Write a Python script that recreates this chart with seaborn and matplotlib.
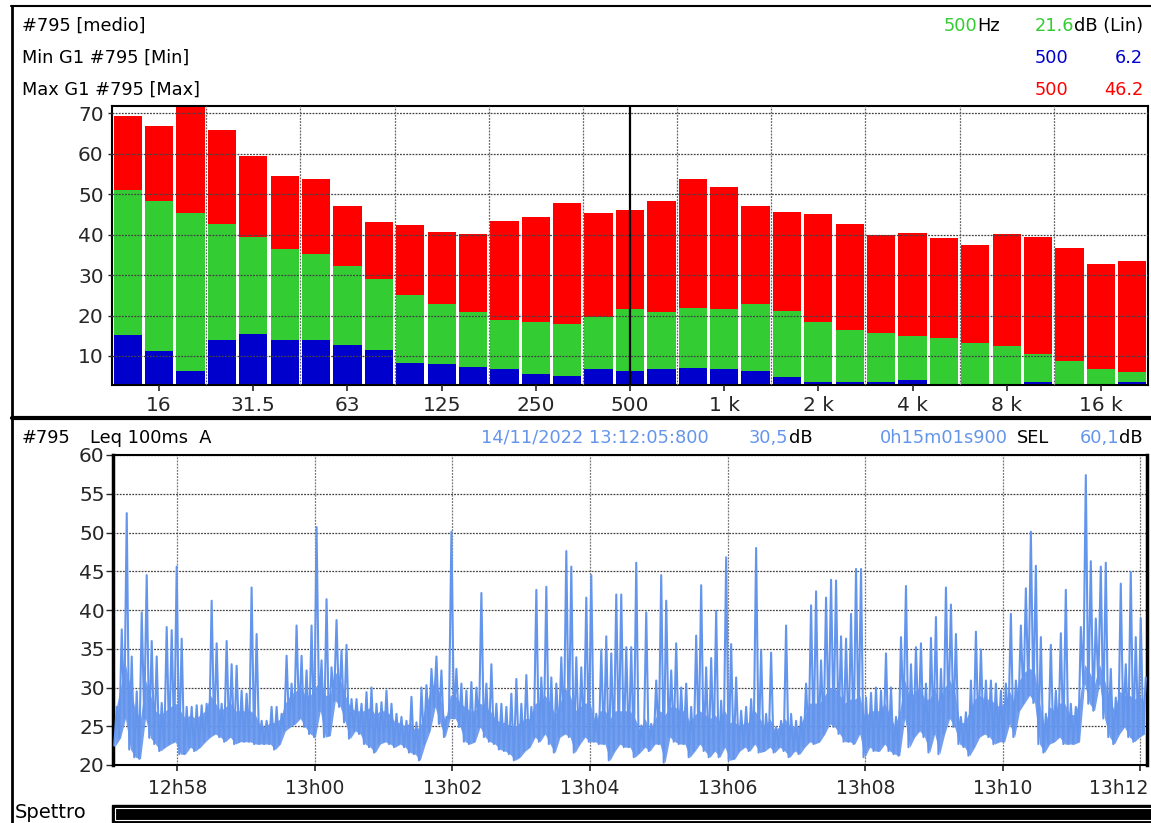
import numpy as np
import pandas as pd
import matplotlib
matplotlib.use("Agg")
import matplotlib.pyplot as plt
import matplotlib.transforms as mtransforms
import seaborn as sns
from matplotlib.patches import Rectangle
from matplotlib.lines import Line2D
from matplotlib.ticker import FuncFormatter, FixedLocator

# ---------------- data ----------------
bands = ["12.5", "16", "20", "25", "31.5", "40", "50", "63", "80", "100",
         "125", "160", "200", "250", "315", "400", "500", "630", "800", "1 k",
         "1.25 k", "1.6 k", "2 k", "2.5 k", "3.15 k", "4 k", "5 k", "6.3 k", "8 k", "10 k",
         "12.5 k", "16 k", "20 k"]
band_labels = ["16", "31.5", "63", "125", "250", "500", "1 k", "2 k", "4 k", "8 k", "16 k"]
max_db = [69.3, 66.9, 72.5, 65.9, 59.4, 54.5, 53.8, 47.1, 43.1, 42.4,
          40.7, 40.2, 43.4, 44.4, 47.8, 45.4, 46.2, 48.3, 53.8, 51.8,
          47.1, 45.6, 45.1, 42.6, 39.9, 40.4, 39.2, 37.4, 40.2, 39.4,
          36.7, 32.7, 33.5]
medio_db = [51.0, 48.3, 45.4, 42.6, 39.4, 36.4, 35.2, 32.2, 29.0, 25.1,
            22.8, 20.9, 18.9, 18.4, 17.9, 19.6, 21.6, 20.9, 21.9, 21.6,
            22.8, 21.1, 18.4, 16.4, 15.7, 14.9, 14.4, 13.2, 12.4, 10.5,
            8.7, 6.8, 6.0]
min_db = [15.2, 11.2, 6.3, 14.0, 15.4, 14.0, 14.0, 12.7, 11.5, 8.3,
          8.0, 7.3, 6.8, 5.5, 5.0, 6.8, 6.2, 6.8, 7.0, 6.8,
          6.3, 4.8, 3.6, 3.6, 3.6, 4.0, 2.8, 3.1, 3.1, 3.6,
          3.1, 2.8, 3.6]

# Leq 100ms A, read per short interval: low edge, top of dense band, peak
leq_low = [22.5, 23.5, 26, 22, 21, 20.8, 26, 23.5, 22.7, 21.8,
           22.3, 22.7, 23, 21.4, 21.4, 22.3, 21.8, 22.3, 23, 23.6,
           24, 23.6, 23, 23.6, 22.7, 23, 23, 23, 22.7, 22.7,
           22.7, 22.7, 22, 22.7, 24.4, 24.9, 25.3, 26, 24.9, 24,
           23.6, 27, 23.6, 23.8, 28.3, 27.5, 25.5, 23.4, 24.4, 24,
           22.7,
           22.3, 21.6, 22.7, 23, 22.7, 22.3, 22.7, 22.3, 21.6, 21.4,
           20.6, 22.7, 24.4, 27.5, 25.3, 23.6, 26, 26, 24.9, 23,
           22.7, 23, 24.9, 23.6, 23, 22.7, 22, 21.8, 21.4, 20.6,
           21, 21.8, 22.3, 23.6, 23, 24, 22.7, 21.6, 23.6, 24,
           23.6, 21.6, 22.7, 23.6, 23, 23, 22.7, 22.7, 20.6, 21.8,
           22.7,
           22.3, 22.3, 21, 21.6, 22.3, 21.8, 22.7, 22.7, 20.3, 23.6,
           23, 22.7, 22.7, 21, 21.8, 22.7, 21.8, 21, 21.8, 21,
           22.3, 20.6, 20.8, 21.8, 22.3, 21.8, 22.7, 21.6, 21.8, 22.3,
           21.6, 22.3, 21.8, 21, 21.8, 21.4, 22.3, 23, 22.7, 23,
           24, 25.3, 24.9, 24, 23, 23, 22.7, 24, 21, 22.3,
           21.8,
           21.8, 22.7, 21.8, 21.4, 21.2, 26, 22.3, 23.6, 24.4, 23.6,
           21.6, 24, 21.4, 24, 26, 24.9, 22.7, 22.3, 21.2, 22.3,
           23.6, 24, 23.6, 22.7, 23, 23, 25.3, 23.6, 27, 28,
           29, 28, 22.7, 21.6, 22.7, 23, 23.6, 22.7, 22.7, 22.7,
           23, 30.5, 27.9, 27, 30.5, 26, 23.6, 22.7, 24, 24.9,
           23.6, 23, 23.6, 24]
leq_band = [27, 30, 33, 30, 27, 26, 31, 29, 27, 26.5,
            27, 27.5, 28, 27, 26, 26.5, 26, 26.5, 27, 29,
            28, 27, 27.5, 28, 27, 27, 27, 27, 26.5, 25,
            25, 25.5, 25.5, 26, 28, 29, 29.5, 30, 29, 29,
            30, 31, 29, 29, 32, 31, 29, 27.5, 27, 27,
            27,
            27.5, 26.5, 27, 27, 26.5, 25.5, 25.5, 25, 25.5, 24.5,
            25, 27.5, 29.5, 31, 29, 25.5, 29, 29, 28, 27.5,
            27, 27, 28, 27.5, 27, 26, 25.5, 25.5, 25, 25,
            25.5, 26, 26, 28, 28, 29, 28, 26.5, 28, 30,
            29, 27, 27.5, 28, 28, 25.5, 27, 27, 26, 27,
            27,
            27, 27, 26, 24.5, 26, 24.5, 26, 27, 26.5, 27.5,
            27.5, 27, 27, 25.5, 26.5, 27, 26.5, 26, 26.5, 25.5,
            27, 25.5, 25.5, 25, 25.5, 25.5, 27, 26, 25, 26,
            24.5, 25, 26, 25, 25, 25, 26.5, 28, 28, 28,
            29, 30, 30, 29, 28, 28.5, 28.5, 29, 26, 27,
            27,
            27, 28, 26.5, 25, 27, 31, 28.5, 29.5, 30, 28.5,
            28.5, 30, 27.5, 30, 31, 29.5, 25.5, 25.5, 27, 28.5,
            29, 28.5, 28.5, 28, 27.5, 28, 29.5, 28, 31, 32,
            32.5, 32, 28, 25, 27.5, 27, 28, 28, 26.5, 26.5,
            28.5, 33, 32, 30.5, 33, 31, 28.5, 27, 29.5, 29,
            29, 28.5, 29, 28]
leq_high = [27.5, 37.5, 52.5, 34, 29.5, 39.7, 44.5, 36, 34, 28,
            37.8, 37.4, 45.6, 36.3, 27.5, 27.5, 27.7, 27.7, 27.9, 41.2,
            35.7, 27.9, 36, 33, 32.8, 29.6, 29.2, 42.9, 36.9, 25.7,
            25.7, 27.5, 27.5, 26.6, 34.1, 30.5, 38, 34.1, 32.2, 38,
            50.7, 33.5, 41.4, 32.6, 38.7, 34.8, 35.5, 28.5, 28.5, 27.9,
            29.4,
            30, 27.9, 28.1, 29.6, 27.9, 26.6, 26.2, 25.7, 28.8, 25.5,
            30, 30.3, 32.4, 34, 32.2, 26.2, 50.1, 32.4, 30.5, 29.6,
            30.7, 30, 42.2, 30.5, 33, 27.9, 27.9, 27.5, 29.2, 31.1,
            27.9, 31.6, 27.5, 42.6, 31.3, 43, 31.3, 30.5, 33.9, 47.6,
            45.6, 33.9, 32.6, 41.6, 44.5, 26.6, 34.9, 36.6, 34.4, 42,
            42,
            35.2, 35.2, 46.1, 25.1, 39.7, 25.3, 30.9, 44.5, 41.2, 32.2,
            35.7, 30, 30.5, 27.5, 36.7, 43.2, 32.6, 33.8, 39.9, 28.3,
            46.8, 35.6, 31.3, 27, 27.5, 28.5, 48, 34.8, 26.6, 34.5,
            24.9, 25.7, 38, 26.6, 25.7, 26.2, 30.5, 40.6, 42.4, 33.5,
            41.6, 43.9, 43.8, 36.6, 36.3, 39.5, 45.3, 45.3, 28.7, 29.3,
            30,
            29.6, 34.4, 30, 26.2, 36.5, 43.1, 33, 35.2, 35.7, 30.5,
            36.4, 39.1, 32.4, 42.9, 40.7, 36.9, 26.2, 26.8, 30.9, 37.2,
            34.9, 30.9, 30.9, 30.5, 29.6, 30.5, 39.5, 30.9, 38, 42.8,
            50.1, 45.7, 36.5, 26.6, 35.5, 29.6, 37, 42.6, 27.9, 27.5,
            37.8, 57.4, 46.3, 38.9, 45.6, 46.1, 32.4, 28.7, 43.4, 33,
            44.9, 36.5, 38.9, 31.3]

t_start = 12 * 3600 + 57 * 60 + 3.9   # 12:57:03.9
duration = 15 * 60 + 1.9              # 0h15m01s900
time_ticks = [12 * 3600 + 58 * 60 + 120 * i for i in range(8)]

# ---------------- figure ----------------
W, H = 1151, 823
sns.set_theme(style="white")
plt.rcParams["font.family"] = ["DejaVu Sans"]
plt.rcParams["axes.linewidth"] = 1.5

fig = plt.figure(figsize=(W / 100, H / 100), dpi=100)
fig.patch.set_facecolor("white")


def fx(x):
    return x / W


def fy(y):
    return 1 - y / H


HDR = 12.8
TICK = 14.5
LINEC = "#6495ED"

# ---------------- top: spectrum ----------------
ax1 = fig.add_axes([fx(112), fy(385), 1036 / W, 279 / H])
spec = pd.DataFrame({"band": bands, "max": max_db, "medio": medio_db, "min": min_db})
for col, c in [("max", "#FF0000"), ("medio", "#33CC33"), ("min", "#0000CC")]:
    sns.barplot(data=spec, x="band", y=col, order=bands, color=c, saturation=1,
                width=0.9, linewidth=0, ax=ax1)
ax1.set_xlim(-0.5, len(bands) - 0.5)
ax1.set_ylim(2.83, 71.8)
ax1.set_xlabel("")
ax1.set_ylabel("")
ax1.set_yticks([10, 20, 30, 40, 50, 60, 70])
label_pos = [bands.index(b) for b in band_labels]
ax1.xaxis.set_major_locator(FixedLocator(label_pos))
ax1.set_xticklabels(band_labels)
ax1.tick_params(axis="x", length=4, width=1.2, pad=4, labelsize=TICK, direction="out", bottom=True)
ax1.tick_params(axis="y", length=3, width=1.0, pad=3, labelsize=TICK, direction="out", left=True)
ax1.set_axisbelow(False)
ax1.yaxis.grid(True, color="#444444", linestyle=(0, (1.5, 1.0)), linewidth=0.9)
for b in np.arange(2.5, len(bands) - 1, 3):
    ax1.axvline(b, color="#666666", linestyle=(0, (1.5, 1.0)), linewidth=0.9, zorder=5)
ax1.axvline(bands.index("500"), color="black", linewidth=1.6, zorder=6)
for s in ax1.spines.values():
    s.set_color("black")
    s.set_linewidth(1.5)

# ---------------- bottom: time history ----------------
ax2 = fig.add_axes([fx(113), fy(765), 1034 / W, 310 / H])
n = len(leq_low)
step = duration / n
t_col = [t_start + (k + 0.5) * step for k in range(n)]
band_top = np.minimum(leq_band, leq_high)
ax2.fill_between(t_col, leq_low, band_top, color=LINEC, linewidth=0, alpha=0.9, zorder=2)
t_vals, db_vals = [], []
for k in range(n):
    t_vals += [t_start + (k + 0.25) * step, t_start + (k + 0.75) * step]
    db_vals += [leq_low[k], leq_high[k]]
ts = pd.DataFrame({"t": t_vals, "db": db_vals})
sns.lineplot(data=ts, x="t", y="db", color=LINEC, linewidth=1.5,
             estimator=None, sort=False, ax=ax2, zorder=3)
ax2.set_xlim(t_start, t_start + duration)
ax2.set_ylim(20, 60)
ax2.set_xlabel("")
ax2.set_ylabel("")
ax2.set_yticks([20, 25, 30, 35, 40, 45, 50, 55, 60])
ax2.set_xticks(time_ticks)
ax2.xaxis.set_major_formatter(FuncFormatter(
    lambda v, p: f"{int(v // 3600)}h{int((v % 3600) // 60):02d}"))
ax2.tick_params(axis="x", length=4, width=1.2, pad=6, labelsize=13.5, direction="out", bottom=True)
ax2.tick_params(axis="y", length=5, width=1.0, pad=1, labelsize=TICK, direction="out", left=True)
ax2.set_axisbelow(True)
ax2.yaxis.grid(True, color="#444444", linestyle=(0, (1.5, 1.0)), linewidth=0.9)
ax2.xaxis.grid(True, color="#777777", linestyle=(0, (1.5, 1.0)), linewidth=0.9)
for s in ax2.spines.values():
    s.set_color("black")
    s.set_linewidth(1.5)
ax2.spines["left"].set_linewidth(2.5)
ax2.spines["right"].set_linewidth(2.5)
fig.canvas.draw()
last = ax2.get_xticklabels()[-1]
last.set_horizontalalignment("right")
last.set_transform(last.get_transform() + mtransforms.ScaledTranslation(8 / 100, 0, fig.dpi_scale_trans))

# ---------------- frames ----------------
fig.add_artist(Line2D([fx(11), fx(1151)], [fy(6), fy(6)], color="black", lw=1.5))
fig.add_artist(Line2D([fx(12), fx(12)], [fy(6), fy(823)], color="black", lw=2))
fig.add_artist(Line2D([fx(12), fx(1151)], [fy(418), fy(418)], color="black", lw=3))

# Spettro bar
fig.text(fx(15), fy(812), "Spettro", fontsize=14, ha="left", va="center", color="black")
fig.add_artist(Rectangle((fx(112), fy(822)), 1040 / W, 17 / H, transform=fig.transFigure,
                         facecolor="black", edgecolor="black", lw=1))
fig.add_artist(Rectangle((fx(115), fy(819.5)), 1040 / W, 12 / H, transform=fig.transFigure,
                         facecolor="black", edgecolor="white", lw=0.8))

# ---------------- header texts ----------------
renderer = fig.canvas.get_renderer()


def rtext(x_right, y, parts, size=HDR):
    x = x_right
    for txt, col in reversed(parts):
        t = fig.text(x / W, fy(y), txt, color=col, ha="right", va="center", fontsize=size)
        bb = t.get_window_extent(renderer=renderer)
        x = bb.x0


def ltext(x_left, y, parts, size=HDR):
    x = x_left
    for txt, col in parts:
        t = fig.text(x / W, fy(y), txt, color=col, ha="left", va="center", fontsize=size)
        bb = t.get_window_extent(renderer=renderer)
        x = bb.x1


GREEN = "#33CC33"
BLUE = "#0000CC"
RED = "#FF0000"

ltext(22, 26, [("#795 [medio]", "black")])
ltext(22, 58, [("Min G1 #795 [Min]", "black")])
ltext(22, 90, [("Max G1 #795 [Max]", "black")])
rtext(1000, 26, [("500", GREEN), ("Hz", "black")])
rtext(1143, 26, [("21.6", GREEN), ("dB (Lin)", "black")])
rtext(1068, 58, [("500", BLUE)])
rtext(1143, 58, [("6.2", BLUE)])
rtext(1068, 90, [("500", RED)])
rtext(1143, 90, [("46.2", RED)])

ltext(22, 438, [("#795", "black")])
ltext(90, 438, [("Leq 100ms  A", "black")])
ltext(481, 438, [("14/11/2022 13:12:05:800", LINEC)])
ltext(749, 438, [("30,5", LINEC), ("dB", "black")])
ltext(880, 438, [("0h15m01s900", LINEC)])
ltext(1017, 438, [("SEL", "black")])
rtext(1143, 438, [("60,1", LINEC), ("dB", "black")])

fig.savefig("out.png", dpi=100, facecolor="white")
